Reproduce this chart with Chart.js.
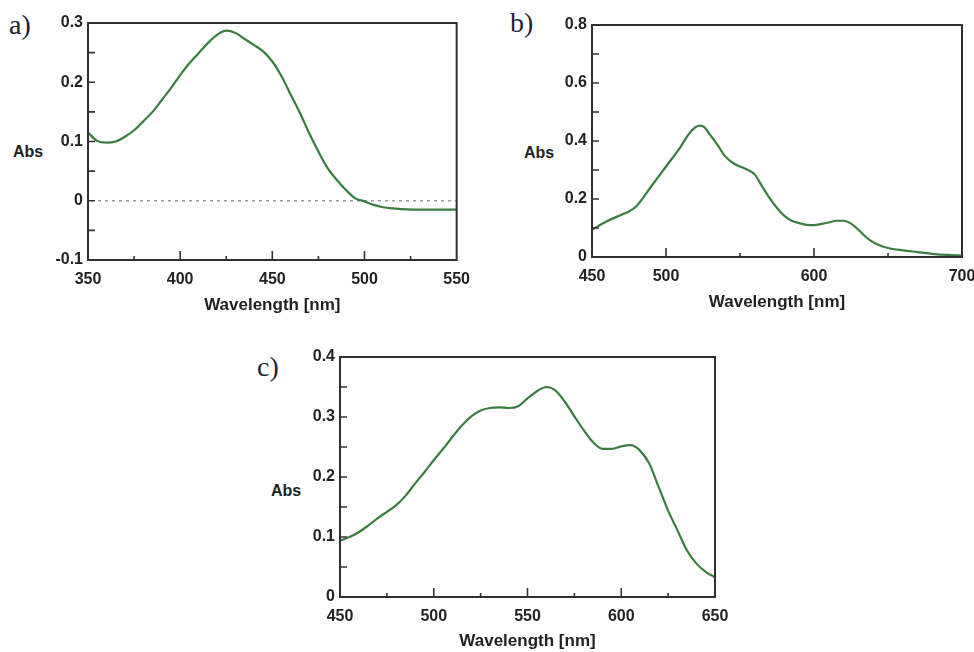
<!DOCTYPE html>
<html>
<head>
<meta charset="utf-8">
<script src="https://cdn.jsdelivr.net/npm/chart.js@4.4.0/dist/chart.umd.min.js"></script>
<style>
  html, body { margin: 0; padding: 0; background: #fff; overflow: hidden; }
  body { width: 974px; height: 652px; position: relative; }
  canvas { position: absolute; }
  .panel { position: absolute; font-family: "Liberation Serif", "Times New Roman", serif; font-size: 28px; line-height: 28px; color: #1c2438; }
  .abs { position: absolute; font-family: "Liberation Sans", Arial, sans-serif; font-weight: bold; font-size: 16px; line-height: 16px; color: #222; }
</style>
</head>
<body>
<div class="panel" style="left:9px;top:11px">a)</div>
<div class="panel" style="left:510px;top:9px">b)</div>
<div class="panel" style="left:257px;top:353px">c)</div>
<div class="abs" style="left:13px;top:144px">Abs</div>
<div class="abs" style="left:524px;top:145px">Abs</div>
<div class="abs" style="left:271px;top:483px">Abs</div>

<canvas id="chartA" width="450" height="320" style="left:30px;top:5px"></canvas>
<canvas id="chartB" width="450" height="320" style="left:540px;top:5px"></canvas>
<canvas id="chartC" width="460" height="312" style="left:280px;top:340px"></canvas>

<script>
// a) spectrum
const aWavelength = [350, 355, 360, 365, 370, 375, 380, 385, 390, 395, 400, 405, 410, 415, 420, 425, 430, 435, 440, 445, 450, 455, 460, 465, 470, 475, 480, 485, 490, 495, 500, 505, 510, 515, 520, 530, 540, 550];
const aAbs = [0.115, 0.101, 0.098, 0.100, 0.108, 0.119, 0.134, 0.150, 0.170, 0.190, 0.212, 0.232, 0.249, 0.266, 0.280, 0.287, 0.283, 0.273, 0.263, 0.252, 0.235, 0.210, 0.179, 0.148, 0.114, 0.083, 0.055, 0.035, 0.018, 0.004, -0.001, -0.007, -0.011, -0.013, -0.014, -0.015, -0.015, -0.015];
const aXLabels = [350, 400, 450, 500, 550];
const aYLabels = [-0.1, 0, 0.1, 0.2, 0.3];

// b) spectrum
const bWavelength = [450, 460, 470, 475, 480, 490, 500, 510, 515, 520, 523, 526, 530, 535, 540, 545, 550, 555, 560, 565, 570, 575, 580, 585, 590, 595, 600, 605, 610, 615, 620, 625, 630, 635, 640, 645, 650, 660, 670, 680, 690, 700];
const bAbs = [0.094, 0.123, 0.146, 0.157, 0.175, 0.243, 0.312, 0.381, 0.421, 0.448, 0.453, 0.447, 0.420, 0.385, 0.347, 0.325, 0.312, 0.301, 0.284, 0.243, 0.203, 0.169, 0.142, 0.125, 0.117, 0.111, 0.110, 0.114, 0.119, 0.125, 0.125, 0.115, 0.094, 0.069, 0.051, 0.039, 0.031, 0.023, 0.017, 0.011, 0.007, 0.005];
const bXLabels = [450, 500, 600, 700];
const bYLabels = [0, 0.2, 0.4, 0.6, 0.8];

// c) spectrum
const cWavelength = [450, 455, 460, 465, 470, 475, 480, 485, 490, 495, 500, 505, 510, 515, 520, 525, 530, 535, 540, 545, 550, 555, 560, 565, 570, 575, 580, 585, 590, 595, 600, 605, 610, 615, 620, 625, 630, 635, 640, 645, 650];
const cAbs = [0.094, 0.100, 0.108, 0.119, 0.131, 0.142, 0.153, 0.169, 0.189, 0.208, 0.228, 0.247, 0.267, 0.286, 0.301, 0.311, 0.315, 0.316, 0.315, 0.318, 0.331, 0.343, 0.350, 0.344, 0.325, 0.301, 0.278, 0.258, 0.247, 0.247, 0.251, 0.253, 0.244, 0.222, 0.183, 0.144, 0.111, 0.078, 0.056, 0.042, 0.033];
const cXLabels = [450, 500, 550, 600, 650];
const cYLabels = [0, 0.1, 0.2, 0.3, 0.4];

Chart.defaults.font.family = '"Liberation Sans", Arial, sans-serif';
Chart.defaults.font.size = 16;
Chart.defaults.font.weight = 'bold';
Chart.defaults.color = '#222';

const near = (list, v) => list.some(l => Math.abs(l - v) < 1e-6);
const fmtY = v => (Math.abs(v) < 1e-9 ? '0' : v.toFixed(1));

// frame + inward tick marks, like the instrument software draws them
const frameTicks = {
    id: 'frameTicks',
    beforeDatasetsDraw(chart, args, o) {
        if (!o.zeroLine) return;
        const { ctx, chartArea: a, scales: { y } } = chart;
        const py = y.getPixelForValue(0);
        ctx.save();
        ctx.strokeStyle = '#9a9a9a';
        ctx.lineWidth = 1.5;
        ctx.setLineDash([3, 4]);
        ctx.beginPath();
        ctx.moveTo(a.left + 10, py);
        ctx.lineTo(a.right, py);
        ctx.stroke();
        ctx.restore();
    },
    afterDatasetsDraw(chart, args, o) {
        const { ctx, chartArea: a, scales: { x, y } } = chart;
        ctx.save();
        ctx.strokeStyle = '#333';
        ctx.lineWidth = 1.6;
        ctx.beginPath();
        x.ticks.forEach(t => {
            if (t.value <= x.min || t.value >= x.max) return;
            const px = x.getPixelForValue(t.value);
            const len = near(o.xMajor, t.value) ? 9 : 4;
            ctx.moveTo(px, a.bottom);
            ctx.lineTo(px, a.bottom - len);
        });
        y.ticks.forEach(t => {
            if (t.value <= y.min + 1e-9 || t.value >= y.max - 1e-9) return;
            const py = y.getPixelForValue(t.value);
            ctx.moveTo(a.left, py);
            ctx.lineTo(a.left + 7, py);
        });
        ctx.stroke();
        ctx.lineWidth = 2;
        ctx.strokeStyle = '#303030';
        ctx.strokeRect(a.left, a.top, a.width, a.height);
        ctx.restore();
    }
};

function makeChart(id, cfg) {
    const points = cfg.xs.map((w, i) => ({ x: w, y: cfg.ys[i] }));
    return new Chart(document.getElementById(id), {
        type: 'line',
        data: {
            datasets: [{
                data: points,
                borderColor: '#3b7d40',
                borderWidth: 2.2,
                pointRadius: 0,
                cubicInterpolationMode: 'monotone',
            }],
        },
        options: {
            responsive: false,
            animation: false,
            devicePixelRatio: 1,
            layout: { padding: cfg.padding },
            plugins: {
                legend: { display: false },
                tooltip: { enabled: false },
                frameTicks: { xMajor: cfg.xLabels, zeroLine: cfg.zeroLine },
            },
            scales: {
                x: {
                    type: 'linear',
                    min: cfg.xMin,
                    max: cfg.xMax,
                    grid: { display: false, drawTicks: false },
                    border: { display: false },
                    ticks: {
                        stepSize: cfg.xStep,
                        autoSkip: false,
                        maxRotation: 0,
                        padding: 10,
                        callback: v => (near(cfg.xLabels, v) ? String(Math.round(v)) : ''),
                    },
                    title: {
                        display: true,
                        text: 'Wavelength [nm]',
                        font: { size: 17, weight: 'bold' },
                        padding: 0,
                    },
                    afterFit: s => { s.height = cfg.xHeight; },
                },
                y: {
                    min: cfg.yMin,
                    max: cfg.yMax,
                    grid: { display: false, drawTicks: false },
                    border: { display: false },
                    ticks: {
                        stepSize: cfg.yStep,
                        autoSkip: false,
                        padding: 5,
                        callback: v => (near(cfg.yLabels, v) ? fmtY(v) : ''),
                    },
                    afterFit: s => { s.width = cfg.yWidth; },
                },
            },
        },
        plugins: [frameTicks],
    });
}

makeChart('chartA', {
    xs: aWavelength, ys: aAbs, xLabels: aXLabels, yLabels: aYLabels,
    xMin: 350, xMax: 550, xStep: 25, yMin: -0.1, yMax: 0.3, yStep: 0.05,
    yWidth: 58, xHeight: 56, padding: { left: 0, right: 23, top: 18, bottom: 9 },
    zeroLine: true,
});

makeChart('chartB', {
    xs: bWavelength, ys: bAbs, xLabels: bXLabels, yLabels: bYLabels,
    xMin: 450, xMax: 700, xStep: 50, yMin: 0, yMax: 0.8, yStep: 0.1,
    yWidth: 52, xHeight: 56, padding: { left: 0, right: 28, top: 20, bottom: 12 },
    zeroLine: false,
});

makeChart('chartC', {
    xs: cWavelength, ys: cAbs, xLabels: cXLabels, yLabels: cYLabels,
    xMin: 450, xMax: 650, xStep: 25, yMin: 0, yMax: 0.4, yStep: 0.05,
    yWidth: 60, xHeight: 55, padding: { left: 0, right: 25, top: 17, bottom: 0 },
    zeroLine: false,
});
</script>
</body>
</html>
